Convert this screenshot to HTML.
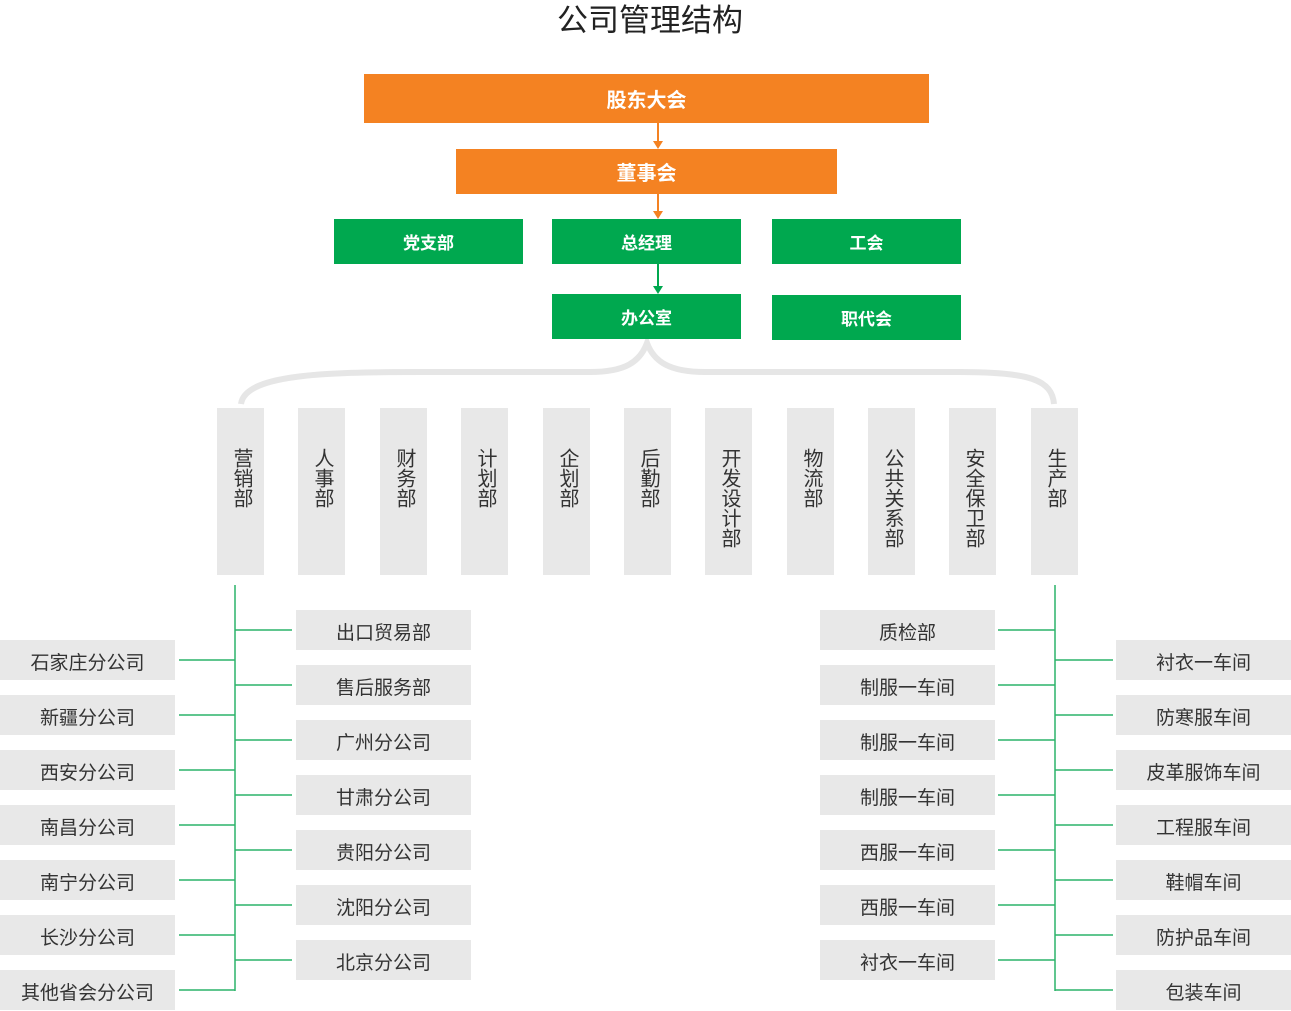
<!DOCTYPE html>
<html><head><meta charset="utf-8"><style>
body{margin:0;width:1291px;height:1011px;background:#fff;position:relative;overflow:hidden;font-family:"Liberation Sans","Noto Sans CJK SC",sans-serif;}
.a{position:absolute;display:flex;align-items:center;justify-content:center;box-sizing:border-box;}
.o{background:#f48222;color:#fff;font-weight:bold;font-size:20px;}
.g{background:#00a84f;color:#fff;font-weight:bold;font-size:17px;}
.v{background:#e8e8e8;color:#333;font-size:20px;width:47px;top:408px;height:167px;writing-mode:vertical-rl;justify-content:flex-start;padding-top:40px;line-height:47px;letter-spacing:0;}
.b{background:#e8e8e8;color:#333;font-size:19px;width:175px;height:40px;padding-top:2px;}
</style></head><body>
<div class="a" style="left:450px;top:0;width:400px;height:34px;font-size:31px;color:#222;">公司管理结构</div>
<svg width="1291" height="1011" style="position:absolute;left:0;top:0">
<g stroke="#f48222" stroke-width="2" fill="#f48222">
<line x1="658" y1="123" x2="658" y2="142"/><polygon points="653,141 663,141 658,149" stroke="none"/>
<line x1="658" y1="194" x2="658" y2="212"/><polygon points="653,211 663,211 658,219" stroke="none"/>
</g>
<g stroke="#00a84f" stroke-width="2" fill="#00a84f">
<line x1="658" y1="264" x2="658" y2="287"/><polygon points="653,286 663,286 658,294" stroke="none"/>
</g>
<path d="M241,404 C245,375 320,372 420,372 L590,372 C625,372 640,362 647,343 C654,362 670,372 705,372 L960,372 C1030,372 1052,380 1054,404" fill="none" stroke="#e6e6e6" stroke-width="6"/>
<g stroke="#2cb46a" stroke-width="1.5">
<line x1="235" y1="585" x2="235" y2="991"/>
<line x1="179" y1="660" x2="235" y2="660"/><line x1="179" y1="715" x2="235" y2="715"/><line x1="179" y1="770" x2="235" y2="770"/><line x1="179" y1="825" x2="235" y2="825"/><line x1="179" y1="880" x2="235" y2="880"/><line x1="179" y1="935" x2="235" y2="935"/><line x1="179" y1="990" x2="235" y2="990"/>
<line x1="235" y1="630" x2="292" y2="630"/><line x1="235" y1="685" x2="292" y2="685"/><line x1="235" y1="740" x2="292" y2="740"/><line x1="235" y1="795" x2="292" y2="795"/><line x1="235" y1="850" x2="292" y2="850"/><line x1="235" y1="905" x2="292" y2="905"/><line x1="235" y1="960" x2="292" y2="960"/>
<line x1="1055" y1="585" x2="1055" y2="991"/>
<line x1="998" y1="630" x2="1055" y2="630"/><line x1="998" y1="685" x2="1055" y2="685"/><line x1="998" y1="740" x2="1055" y2="740"/><line x1="998" y1="795" x2="1055" y2="795"/><line x1="998" y1="850" x2="1055" y2="850"/><line x1="998" y1="905" x2="1055" y2="905"/><line x1="998" y1="960" x2="1055" y2="960"/>
<line x1="1055" y1="660" x2="1113" y2="660"/><line x1="1055" y1="715" x2="1113" y2="715"/><line x1="1055" y1="770" x2="1113" y2="770"/><line x1="1055" y1="825" x2="1113" y2="825"/><line x1="1055" y1="880" x2="1113" y2="880"/><line x1="1055" y1="935" x2="1113" y2="935"/><line x1="1055" y1="990" x2="1113" y2="990"/>
</g>
</svg>
<div class="a o" style="left:364px;top:74px;width:565px;height:49px;">股东大会</div>
<div class="a o" style="left:456px;top:149px;width:381px;height:45px;">董事会</div>
<div class="a g" style="left:334px;top:219px;width:189px;height:45px;">党支部</div>
<div class="a g" style="left:552px;top:219px;width:189px;height:45px;">总经理</div>
<div class="a g" style="left:772px;top:219px;width:189px;height:45px;">工会</div>
<div class="a g" style="left:552px;top:294px;width:189px;height:45px;">办公室</div>
<div class="a g" style="left:772px;top:295px;width:189px;height:45px;">职代会</div>
<div class="a v" style="left:217px">营销部</div>
<div class="a v" style="left:298px">人事部</div>
<div class="a v" style="left:380px">财务部</div>
<div class="a v" style="left:461px">计划部</div>
<div class="a v" style="left:543px">企划部</div>
<div class="a v" style="left:624px">后勤部</div>
<div class="a v" style="left:705px">开发设计部</div>
<div class="a v" style="left:787px">物流部</div>
<div class="a v" style="left:868px">公共关系部</div>
<div class="a v" style="left:949px">安全保卫部</div>
<div class="a v" style="left:1031px">生产部</div>
<div class="a b" style="left:0;top:640px">石家庄分公司</div>
<div class="a b" style="left:0;top:695px">新疆分公司</div>
<div class="a b" style="left:0;top:750px">西安分公司</div>
<div class="a b" style="left:0;top:805px">南昌分公司</div>
<div class="a b" style="left:0;top:860px">南宁分公司</div>
<div class="a b" style="left:0;top:915px">长沙分公司</div>
<div class="a b" style="left:0;top:970px">其他省会分公司</div>
<div class="a b" style="left:296px;top:610px">出口贸易部</div>
<div class="a b" style="left:296px;top:665px">售后服务部</div>
<div class="a b" style="left:296px;top:720px">广州分公司</div>
<div class="a b" style="left:296px;top:775px">甘肃分公司</div>
<div class="a b" style="left:296px;top:830px">贵阳分公司</div>
<div class="a b" style="left:296px;top:885px">沈阳分公司</div>
<div class="a b" style="left:296px;top:940px">北京分公司</div>
<div class="a b" style="left:820px;top:610px">质检部</div>
<div class="a b" style="left:820px;top:665px">制服一车间</div>
<div class="a b" style="left:820px;top:720px">制服一车间</div>
<div class="a b" style="left:820px;top:775px">制服一车间</div>
<div class="a b" style="left:820px;top:830px">西服一车间</div>
<div class="a b" style="left:820px;top:885px">西服一车间</div>
<div class="a b" style="left:820px;top:940px">衬衣一车间</div>
<div class="a b" style="left:1116px;top:640px">衬衣一车间</div>
<div class="a b" style="left:1116px;top:695px">防寒服车间</div>
<div class="a b" style="left:1116px;top:750px">皮革服饰车间</div>
<div class="a b" style="left:1116px;top:805px">工程服车间</div>
<div class="a b" style="left:1116px;top:860px">鞋帽车间</div>
<div class="a b" style="left:1116px;top:915px">防护品车间</div>
<div class="a b" style="left:1116px;top:970px">包装车间</div>
</body></html>
